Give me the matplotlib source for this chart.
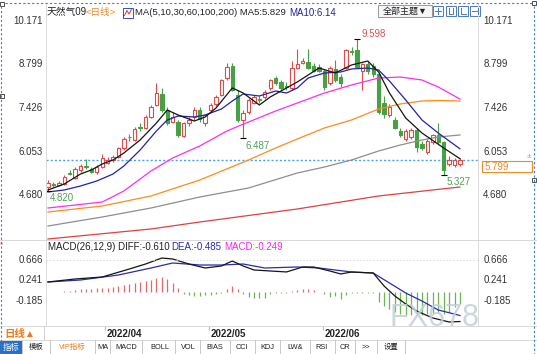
import matplotlib

matplotlib.use("Agg")
import matplotlib.pyplot as plt
from matplotlib.patches import Rectangle

plt.rcParams["font.family"] = ["Liberation Sans", "Noto Sans CJK SC"]

W, H = 537, 354

# daily candles (天然气09)
opens = [4.92, 5.02, 5.00, 5.03, 5.38, 5.22, 5.47, 5.60, 5.50, 5.40,
         5.57, 5.70, 5.78, 5.88, 6.15, 6.52, 6.42, 6.82, 6.80, 7.14,
         7.52, 7.87, 7.36, 7.00, 6.98, 6.54, 6.95, 7.14, 7.36, 6.95,
         7.36, 7.55, 7.84, 8.37, 8.75, 7.84, 7.05, 7.30, 7.60, 7.70,
         7.77, 8.06, 8.37, 8.25, 8.12, 8.06, 8.70, 8.85, 8.88, 8.75,
         8.72, 8.60, 8.20, 8.66, 8.40, 8.70, 9.22, 9.25, 8.60, 8.80,
         8.75, 8.50, 7.60, 7.20, 7.05, 6.70, 6.45, 6.50, 6.73, 6.30,
         6.04, 6.35, 6.57, 6.35, 5.65, 5.62, 5.65]
highs = [5.15, 5.08, 5.12, 5.30, 5.48, 5.55, 5.66, 5.82, 5.58, 5.62,
         5.98, 5.88, 5.95, 6.20, 6.50, 6.62, 6.82, 6.95, 7.20, 7.52,
         8.20, 8.05, 7.45, 7.30, 7.05, 7.00, 7.15, 7.45, 7.45, 7.25,
         7.60, 7.85, 8.35, 8.85, 8.85, 8.00, 7.35, 7.75, 7.85, 7.82,
         8.00, 8.35, 8.45, 8.30, 8.25, 8.90, 9.30, 9.00, 9.30, 8.85,
         8.80, 8.65, 8.75, 8.95, 8.50, 9.30, 9.35, 9.598, 8.85, 8.90,
         8.85, 8.55, 7.80, 7.55, 7.15, 6.80, 6.75, 6.78, 6.80, 6.40,
         6.45, 6.62, 6.95, 6.40, 5.90, 5.85, 5.85]
lows = [4.82, 4.95, 4.96, 5.00, 5.30, 5.18, 5.42, 5.50, 5.38, 5.36,
        5.52, 5.65, 5.72, 5.85, 6.10, 6.40, 6.38, 6.70, 6.75, 7.10,
        7.48, 7.30, 6.90, 6.95, 6.50, 6.50, 6.85, 7.05, 7.00, 6.85,
        7.30, 7.50, 7.80, 8.30, 7.95, 7.00, 6.487, 7.25, 7.55, 7.60,
        7.70, 8.00, 8.15, 8.00, 8.00, 8.00, 8.65, 8.80, 8.65, 8.55,
        8.55, 8.00, 8.15, 8.25, 8.10, 8.65, 9.10, 8.70, 8.00, 8.50,
        8.40, 7.25, 7.10, 7.15, 6.75, 6.50, 6.40, 6.45, 6.05, 6.10,
        5.98, 6.30, 6.30, 5.327, 5.60, 5.58, 5.60]
closes = [5.05, 4.99, 5.06, 5.25, 5.36, 5.50, 5.60, 5.56, 5.42, 5.57,
          5.85, 5.80, 5.87, 6.15, 6.45, 6.50, 6.76, 6.80, 7.14, 7.46,
          7.90, 7.36, 6.95, 7.15, 6.57, 6.95, 7.05, 7.36, 7.08, 7.20,
          7.52, 7.77, 8.30, 8.72, 8.00, 7.05, 7.27, 7.68, 7.77, 7.67,
          7.93, 8.30, 8.20, 8.06, 8.08, 8.70, 8.81, 8.92, 8.70, 8.60,
          8.60, 8.09, 8.70, 8.30, 8.20, 9.25, 9.18, 8.72, 8.80, 8.60,
          8.50, 7.30, 7.25, 7.45, 6.80, 6.57, 6.70, 6.72, 6.20, 6.15,
          6.40, 6.57, 6.35, 5.47, 5.80, 5.80, 5.799]

# moving averages, sampled at candle positions
ma5_idx = [0, 3, 6, 8, 10, 12, 14, 17, 20, 22, 24, 27, 29, 31, 34, 36, 39, 41,
           44, 46, 50, 53, 56, 59, 61, 63, 66, 69, 73, 76]
ma5 = [4.840, 5.029, 5.345, 5.471, 5.660, 5.786, 6.007, 6.417, 6.953, 7.363,
       7.206, 7.016, 7.143, 7.427, 8.058, 7.900, 7.521, 7.774, 8.058, 8.247,
       8.688, 8.531, 8.783, 8.909, 8.562, 7.900, 7.111, 6.638, 6.165, 5.829]
ma10_idx = [0, 3, 6, 9, 12, 14, 17, 20, 22, 24, 27, 29, 32, 34, 36, 39, 42, 44,
            46, 48, 51, 54, 56, 59, 61, 63, 66, 69, 72, 76]
ma10 = [4.777, 4.840, 4.966, 5.124, 5.345, 5.597, 6.102, 6.701, 7.048, 7.174,
        7.143, 7.206, 7.395, 7.647, 7.868, 7.805, 7.963, 7.900, 8.058, 8.373,
        8.531, 8.562, 8.657, 8.688, 8.625, 8.278, 7.679, 7.048, 6.638, 6.140]
ma30_idx = [0, 10, 14, 19, 23, 28, 33, 37, 42, 46, 51, 56, 61, 65, 69, 72, 76]
ma30 = [4.272, 4.461, 4.808, 5.439, 5.849, 6.228, 6.701, 6.985, 7.332, 7.584,
        7.900, 8.152, 8.373, 8.404, 8.310, 8.089, 7.710]
ma60_idx = [0, 10, 19, 28, 37, 42, 46, 51, 56, 61, 65, 69, 72, 76]
ma60 = [4.146, 4.335, 4.651, 5.155, 5.786, 6.165, 6.449, 6.796, 7.048, 7.395,
        7.553, 7.647, 7.663, 7.647]
ma100_idx = [0, 10, 19, 28, 37, 46, 51, 56, 61, 65, 69, 72, 76]
ma100 = [3.704, 3.988, 4.272, 4.619, 4.903, 5.376, 5.565, 5.786, 6.070, 6.259,
         6.417, 6.512, 6.575]
ma200_idx = [0, 19, 28, 46, 61, 76]
ma200 = [3.294, 3.610, 3.830, 4.241, 4.651, 4.935]

last_price = 5.799
price_ticks = [10.171, 8.799, 7.426, 6.053, 4.680]

# MACD(26,12,9)
diff_idx = [0, 5, 10, 15, 18, 21, 23, 26, 29, 32, 34, 36, 38, 41, 44, 47, 49,
            52, 54, 56, 60, 62, 64, 66, 68, 71, 74, 76]
diff = [0.210, 0.272, 0.313, 0.479, 0.583, 0.707, 0.687, 0.583, 0.500, 0.542,
        0.645, 0.542, 0.459, 0.438, 0.418, 0.521, 0.521, 0.438, 0.376, 0.417,
        0.396, 0.127, -0.081, -0.247, -0.392, -0.537, -0.620, -0.610]
dea_idx = [0, 6, 13, 19, 23, 28, 32, 36, 40, 46, 50, 56, 60, 63, 66, 69, 72, 76]
dea = [0.210, 0.251, 0.355, 0.500, 0.604, 0.562, 0.562, 0.583, 0.500, 0.521,
       0.500, 0.417, 0.396, 0.189, -0.019, -0.185, -0.371, -0.485]
macd_bar = [0.01, 0.01, 0.01, 0.02, 0.02, 0.04, 0.06, 0.07, 0.07, 0.08,
            0.08, 0.09, 0.10, 0.12, 0.15, 0.17, 0.19, 0.21, 0.23, 0.25,
            0.29, 0.31, 0.27, 0.19, 0.08, -0.04, -0.06, -0.08, -0.08, -0.06,
            -0.06, -0.04, -0.02, 0.06, 0.12, 0.06, -0.04, -0.10, -0.12, -0.13,
            -0.12, -0.04, -0.02, -0.02, -0.01, 0.02, 0.04, 0.06, 0.06, 0.04,
            0.01, -0.04, -0.10, -0.08, -0.14, -0.06, -0.02, -0.02, -0.02, -0.02,
            -0.02, -0.21, -0.29, -0.35, -0.41, -0.46, -0.48, -0.48, -0.48, -0.48,
            -0.46, -0.46, -0.44, -0.46, -0.41, -0.31, -0.25]
macd_ticks = [0.666, 0.241, -0.185]

date_pos = [10.5, 29.7, 50.7]
date_labels = ["2022/04", "2022/05", "2022/06"]

tabs = ["模板", "VIP指标", "MA", "MACD", "BOLL", "VOL", "BIAS", "CCI", "KDJ",
        "LW&", "RSI", "CR", ">>", "设置"]

RED = "#e04a48"
GREEN = "#47a044"
TXT = "#333333"


def box(x0, y0, x1, y1):
    return [x0 / W, 1 - y1 / H, (x1 - x0) / W, (y1 - y0) / H]


# pixel scale of the screenshot
X0, DX = 48, 5.42
def idx_at(px):
    return (px - X0) / DX

def price_at(py):
    return 10.171 - (py - 21) / 31.7

def macd_at(py):
    return 0.666 - (py - 260) / 48.2


fig = plt.figure(figsize=(W / 100, H / 100), dpi=100)
fig.patch.set_facecolor("white")

# ---------------- main price panel ----------------
ax = fig.add_axes(box(46, 4, 478, 240))
ax.set_xlim(idx_at(46), idx_at(478))
ax.set_ylim(price_at(240), price_at(4))
n = len(closes)
for i in range(n):
    o, h, l, c = opens[i], highs[i], lows[i], closes[i]
    up = c >= o
    col = RED if up else GREEN
    ax.vlines(i, l, h, color=col, lw=0.8, zorder=2)
    ax.bar(i, max(abs(c - o), 0.025), bottom=min(o, c), width=0.62,
           facecolor="white" if up else col, edgecolor=col, lw=0.8, zorder=3)

ax.plot(ma200_idx, ma200, color="#e04040", lw=0.9, zorder=4)
ax.plot(ma100_idx, ma100, color="#8e8e8e", lw=0.9, zorder=4)
ax.plot(ma60_idx, ma60, color="#ff8a1c", lw=0.9, zorder=4)
ax.plot(ma30_idx, ma30, color="#ff2cf0", lw=0.9, zorder=4)
ax.plot(ma10_idx, ma10, color="#2323a8", lw=0.9, zorder=5)
ax.plot(ma5_idx, ma5, color="#151515", lw=0.9, zorder=6)
ax.axhline(last_price, color="#4aa2f0", lw=1, ls=(0, (1.5, 1.5)), zorder=1)

# extreme price marks
hi_i = highs.index(max(highs))
marks = [(hi_i, highs[hi_i], "#e05050", (3, 3.5)),
         (36, lows[36], "#4f9f5a", (2, -6)),
         (0, lows[0], "#4f9f5a", (1.5, -5.5)),
         (73, lows[73], "#4f9f5a", (2, -5.5))]
for i, v, col, off in marks:
    ax.hlines(v, i - 0.55, i + 0.55, color="black", lw=0.8, zorder=7)
    ax.annotate(f"{v:.3f}", xy=(i, v), xytext=off, textcoords="offset points",
                color=col, fontsize=7, va="center", ha="left", zorder=8)

ax.set_xticks([])
ax.set_yticks([])
for t in price_ticks:
    ax.text(-0.007, t, f"{t:.3f}", transform=ax.get_yaxis_transform(),
            ha="right", va="center", fontsize=7, color=TXT)
    ax.text(1.012, t, f"{t:.3f}", transform=ax.get_yaxis_transform(),
            ha="left", va="center", fontsize=7, color=TXT)
for s in ax.spines.values():
    s.set_visible(False)

# ---------------- MACD panel ----------------
mx = fig.add_axes(box(46, 240, 478, 326))
mx.set_xlim(ax.get_xlim())
mx.set_ylim(macd_at(326), macd_at(240))
for i, v in enumerate(macd_bar):
    mx.vlines(i, 0, v, color="#e26a6a" if v >= 0 else "#6cb552", lw=0.9)
mx.plot(dea_idx, dea, color="#2b2bb0", lw=0.9)
mx.plot(diff_idx, diff, color="#151515", lw=0.9)
mx.axhline(macd_ticks[0], color="#dddddd", lw=0.6, ls=(0, (2, 2)))
mx.set_xticks([])
mx.set_yticks([])
for t in macd_ticks:
    mx.text(-0.007, t, f"{t:.3f}", transform=mx.get_yaxis_transform(),
            ha="right", va="center", fontsize=7, color=TXT)
    mx.text(1.012, t, f"{t:.3f}", transform=mx.get_yaxis_transform(),
            ha="left", va="center", fontsize=7, color=TXT)
for s in mx.spines.values():
    s.set_visible(False)

# ---------------- date row ----------------
dx = fig.add_axes(box(46, 326, 478, 340))
dx.set_xlim(ax.get_xlim())
dx.set_ylim(0, 1)
dx.axis("off")
for p, lab in zip(date_pos, date_labels):
    dx.vlines(p, 0.7, 1, color="#bbbbbb", lw=0.8)
    dx.text(p + 0.35, 0.45, lab, ha="left", va="center", fontsize=7,
            fontweight="bold", color="#222222")

# ---------------- screen furniture ----------------
ui = fig.add_axes([0, 0, 1, 1], zorder=10)
ui.set_xlim(0, W)
ui.set_ylim(H, 0)
ui.axis("off")
ui.patch.set_alpha(0)

for x in (46, 478):
    ui.plot([x, x], [4, 326], color="#dcdcdc", lw=0.7)
for y in (240, 326, 340):
    ui.plot([0, W], [y, y], color="#d8d8d8", lw=0.7)
ui.plot([44, 44], [326, 340], color="#d0d0d0", lw=0.7)

# header
ui.text(47, 12.5, "天然气09", fontsize=7, color="#222222", va="center")
ui.text(86, 12.5, "<日线>", fontsize=6.8, color="#f08424", va="center")
ui.add_patch(Rectangle((123, 7.5), 10, 10, facecolor="white",
                       edgecolor="#3050c0", lw=0.7))
ui.plot([124.5, 127, 129, 131.5], [15.5, 10.5, 14, 9.5], color="#e03030", lw=0.7)
ui.text(135, 12.5, "MA(5,10,30,60,100,200) MA5:5.829", fontsize=6.8,
        color="#222222", va="center")
ui.text(289, 12.5, "MA10:6.14", fontsize=7, color="#22229a", va="center")

ui.add_patch(Rectangle((378, 5), 54, 12, facecolor="#f6f6f6",
                       edgecolor="#9a9a9a", lw=0.7))
ui.text(405, 11.3, "全部主题▼", fontsize=6.5, color="#222222",
        ha="center", va="center")
for x in (433, 446, 458, 470):
    ui.add_patch(Rectangle((x, 6), 10, 10, facecolor="white",
                           edgecolor="#4a78c8", lw=0.7))
ui.plot([435, 441], [11, 11], color="#4a78c8", lw=0.7)
ui.plot([438, 438], [8, 14], color="#4a78c8", lw=0.7)
ui.plot([449, 449, 453, 453], [8, 14, 14, 8], color="#4a78c8", lw=0.7)
ui.plot([461, 461, 466], [8, 14, 14], color="#4a78c8", lw=0.7)
ui.plot([472, 478], [11, 11], color="#4a78c8", lw=0.7)
ui.plot([478, 478], [8, 14], color="#4a78c8", lw=0.7)

# last price box
ui.add_patch(Rectangle((482, 161), 50, 11, facecolor="white",
                       edgecolor="#f08a24", lw=0.8))
ui.text(485, 166.7, f"{last_price:.3f}", fontsize=7, color="#f08a24", va="center")
ui.text(529, 156.5, "±", fontsize=6, color="#f08a24", ha="center", va="center")

# MACD title
ui.text(48, 247, "MACD(26,12,9) DIFF:-0.610", fontsize=7, color="#222222",
        va="center")
ui.text(171, 247, "DEA:-0.485", fontsize=7, color="#2b2bb0", va="center")
ui.text(224, 247, "MACD:-0.249", fontsize=7, color="#ff22ee", va="center")

# date row label
ui.text(4, 333.5, "日线▲", fontsize=7.5, color="#f07a18", va="center",
        fontweight="bold")

# toolbar
ui.add_patch(Rectangle((0, 340), 22, 14, facecolor="#2a6fc4", edgecolor="none"))
ui.text(11, 347.5, "指标", fontsize=6, color="white", ha="center", va="center")
tab_x = [36, 72, 103, 126, 160, 188, 215, 242, 267, 295, 322, 345, 366, 391]
seps = [22, 50, 95, 110, 142, 175, 200, 230, 255, 280, 310, 335, 355, 377, 405]
for s in seps:
    ui.plot([s, s], [340, 354], color="#c8c8c8", lw=0.7)
for x, t in zip(tab_x, tabs):
    ui.text(x, 347.5, t, fontsize=5.3, ha="center", va="center",
            color="#f07a18" if t.startswith("VIP") else "#222222")

# selection frame of the chart widget
ui.plot([5, 532], [3, 3], color="#3a7bd5", lw=0.8, ls=(0, (2, 2)))
ui.plot([1, 1], [6, 354], color="#3a7bd5", lw=0.8, ls=(0, (2, 2)))
ui.plot([534, 534], [6, 354], color="#3a7bd5", lw=0.8, ls=(0, (2, 2)))
for hx, hy in ((2, 4), (534, 3), (2, 96), (534, 180)):
    ui.add_patch(Rectangle((hx - 2, hy - 2), 4, 4, facecolor="white",
                           edgecolor="#333333", lw=0.6))
ui.text(2, 245, "*", fontsize=6, color="#e03030", ha="center", va="center")

# watermark
ui.text(434, 318, "FX678", fontsize=22, color="#c3cfdb", alpha=0.85,
        ha="center", va="center")

fig.savefig("out.png", dpi=100)
plt.close(fig)
